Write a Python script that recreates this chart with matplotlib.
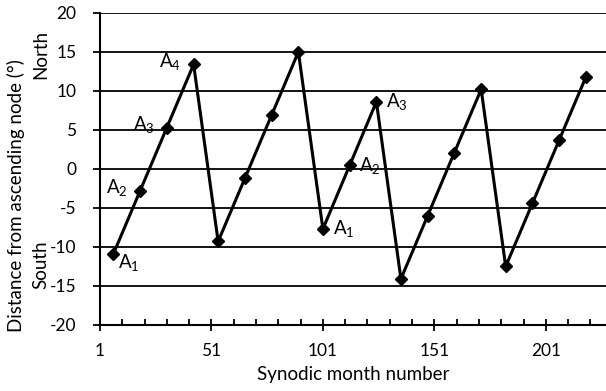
import matplotlib
matplotlib.use("Agg")
import matplotlib.pyplot as plt

plt.rcParams['font.family'] = ['Lato', 'DejaVu Sans']
plt.rcParams['axes.unicode_minus'] = False

# lunar position at successive eclipse seasons
month = [7, 19, 31, 43, 54, 66, 78, 90, 101, 113, 125, 136, 148, 160, 172, 183, 195, 207, 219]
dist = [-10.9, -2.8, 5.3, 13.4, -9.3, -1.2, 6.9, 15.0, -7.7, 0.45, 8.6,
        -14.1, -6.0, 2.1, 10.2, -12.5, -4.4, 3.7, 11.8]

# labelled points: (index, name, side)
labels = [(0, '1', 'below'), (1, '2', 'left'), (2, '3', 'left'), (3, '4', 'left'),
          (8, '1', 'right'), (9, '2', 'right'), (10, '3', 'right')]

fs = 13.5
tfs = 12.5

fig = plt.figure(figsize=(6.06, 3.91), dpi=100)
ax = fig.add_axes([0.165, 0.169, 0.835, 0.798])

for yv in range(-15, 25, 5):
    ax.axhline(yv, color='black', lw=1.3, zorder=1)

ax.plot(month, dist, color='black', lw=2.2, marker='D', ms=6, zorder=3)

for i, n, side in labels:
    txt = '$\\mathregular{A_{%s}}$' % n
    if side == 'left':
        ax.annotate(txt, (month[i], dist[i]), xytext=(-9, 2), textcoords='offset points',
                    ha='right', va='center', fontsize=fs)
    elif side == 'right':
        ax.annotate(txt, (month[i], dist[i]), xytext=(7, 0), textcoords='offset points',
                    ha='left', va='center', fontsize=fs)
    else:
        ax.annotate(txt, (month[i], dist[i]), xytext=(3, -6), textcoords='offset points',
                    ha='left', va='center', fontsize=fs)

ax.set_xlim(1, 228)
ax.set_ylim(-20, 20)
ax.set_xticks([1, 51, 101, 151, 201])
ax.xaxis.set_minor_locator(plt.FixedLocator(range(11, 228, 10)))
ax.set_yticks(range(-20, 25, 5))

for s in ['top', 'right']:
    ax.spines[s].set_visible(False)
ax.spines['left'].set_linewidth(1.5)
ax.spines['bottom'].set_linewidth(1.5)

ax.tick_params(axis='y', which='major', direction='out', length=5, width=1.3,
               labelsize=tfs, pad=12)
ax.tick_params(axis='x', which='major', direction='inout', length=8, width=1.3,
               labelsize=tfs, pad=9)
ax.tick_params(axis='x', which='minor', direction='in', length=4, width=1.3)

ax.set_xlabel('Synodic month number', fontsize=fs, labelpad=5)
fig.text(0.026, 0.5, 'Distance from ascending node (°)', rotation=90,
         ha='center', va='center', fontsize=fs)
fig.text(0.068, 0.862, 'North', rotation=90, ha='center', va='center', fontsize=fs)
fig.text(0.068, 0.322, 'South', rotation=90, ha='center', va='center', fontsize=fs)

fig.savefig('out.png', dpi=100)
